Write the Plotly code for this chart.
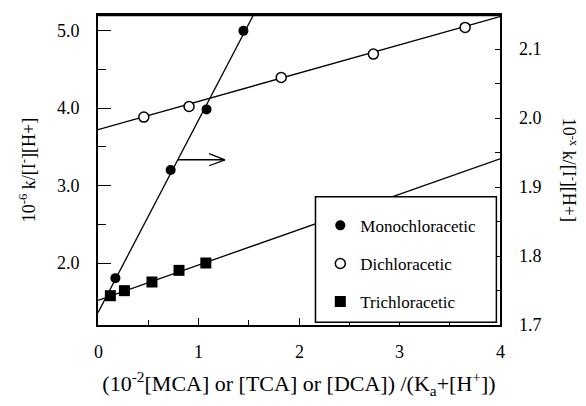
import plotly.graph_objects as go

# Monochloroacetic acid (right-hand axis)
mca_x = [0.173, 0.723, 1.08, 1.447]
mca_y = [1.768, 1.925, 2.013, 2.127]
mca_fit_x = [0.0, 1.6]
mca_fit_y = [1.718, 2.165]

# Dichloroacetic acid (left-hand axis)
dca_x = [0.456, 0.906, 1.823, 2.74, 3.653]
dca_y = [3.883, 4.02, 4.394, 4.696, 5.04]
dca_fit_x = [0.0, 4.0]
dca_fit_y = [3.72, 5.18]

# Trichloroacetic acid (left-hand axis)
tca_x = [0.123, 0.263, 0.537, 0.806, 1.073]
tca_y = [1.578, 1.643, 1.755, 1.905, 2.0]
tca_fit_x = [0.0, 4.0]
tca_fit_y = [1.517, 3.345]

x_ticks = [0, 1, 2, 3, 4]
left_ticks = [2.0, 3.0, 4.0, 5.0]
right_ticks = [1.7, 1.8, 1.9, 2.0, 2.1]
series_names = ["Monochloracetic", "Dichloracetic", "Trichloracetic"]

FONT = "Liberation Serif, Times New Roman, serif"
BLACK = "black"


def serif(s):
    # wrap a label so its face is forced to the serif family
    return "<span style='font-family:\"Liberation Serif\",serif'>%s</span>" % s


fig = go.Figure()

# fitted straight lines
fig.add_trace(go.Scatter(x=mca_fit_x, y=mca_fit_y, yaxis="y2", mode="lines",
                         line=dict(color=BLACK, width=1.3), showlegend=False, hoverinfo="skip"))
fig.add_trace(go.Scatter(x=dca_fit_x, y=dca_fit_y, mode="lines",
                         line=dict(color=BLACK, width=1.3), showlegend=False, hoverinfo="skip"))
fig.add_trace(go.Scatter(x=tca_fit_x, y=tca_fit_y, mode="lines",
                         line=dict(color=BLACK, width=1.3), showlegend=False, hoverinfo="skip"))

# measured points
fig.add_trace(go.Scatter(x=mca_x, y=mca_y, yaxis="y2", mode="markers", name=serif(series_names[0]),
                         legendgroup="a",
                         marker=dict(symbol="circle", size=10, color=BLACK)))
fig.add_trace(go.Scatter(x=dca_x, y=dca_y, mode="markers", name=serif(series_names[1]),
                         legendgroup="b",
                         marker=dict(symbol="circle", size=10, color="white",
                                     line=dict(color=BLACK, width=1.5))))
fig.add_trace(go.Scatter(x=tca_x, y=tca_y, mode="markers", name=serif(series_names[2]),
                         legendgroup="c",
                         marker=dict(symbol="square", size=11, color=BLACK)))

# arrow pointing the monochloroacetic line to the right-hand axis
arrow_y = 3.332
shapes = [
    dict(type="line", xref="x", yref="y", x0=0.796, x1=1.263, y0=arrow_y, y1=arrow_y,
         line=dict(color=BLACK, width=1.3)),
    dict(type="line", xref="x", yref="y", x0=1.106, x1=1.263, y0=3.41, y1=arrow_y,
         line=dict(color=BLACK, width=1.3)),
    dict(type="line", xref="x", yref="y", x0=1.106, x1=1.263, y0=3.255, y1=arrow_y,
         line=dict(color=BLACK, width=1.3)),
    # heavier top frame edge
    dict(type="line", xref="paper", yref="paper", x0=0, x1=1, y0=1, y1=1,
         line=dict(color=BLACK, width=2.5)),
    # legend frame
    dict(type="rect", xref="paper", yref="paper", x0=0.541, x1=0.991, y0=0.009, y1=0.4135,
         fillcolor="white", line=dict(color=BLACK, width=1.5), layer="above"),
]

tick_font = dict(family=FONT, size=18, color=BLACK)

# tick labels written as text items anchored to the axis values
annotations = []
for v in x_ticks:
    annotations.append(dict(text=str(v), x=v, xref="x", y=-0.086, yref="paper",
                            xanchor="center", yanchor="middle", showarrow=False, font=tick_font))
for v in left_ticks:
    annotations.append(dict(text="%.1f" % v, x=-0.041, xref="paper", y=v, yref="y",
                            xanchor="right", yanchor="middle", showarrow=False, font=tick_font))
for v in right_ticks:
    annotations.append(dict(text="%.1f" % v, x=1.0435, xref="paper", y=v, yref="y2",
                            xanchor="left", yanchor="middle", showarrow=False, font=tick_font))
annotations.append(dict(text="10<sup>-x</sup> k/[I<sup>-</sup>][H+]", textangle=90,
                        xref="paper", yref="paper", x=1.175, y=0.5, xanchor="center",
                        yanchor="middle", showarrow=False,
                        font=dict(family=FONT, size=18, color=BLACK)))

fig.update_layout(
    template="none",
    width=586, height=406,
    margin=dict(l=98, r=86, t=15, b=81),
    paper_bgcolor="white", plot_bgcolor="white",
    font=dict(family=FONT, color=BLACK),
    showlegend=True,
    legend=dict(x=0.553, y=0.378, xanchor="left", yanchor="top",
                bgcolor="rgba(0,0,0,0)", borderwidth=0,
                font=dict(family=FONT, size=17, color=BLACK),
                tracegroupgap=13, itemwidth=30),
    xaxis=dict(range=[0, 4], tickvals=x_ticks, showticklabels=False,
               ticks="inside", ticklen=7, tickwidth=1, tickcolor=BLACK,
               minor=dict(tickvals=[0.5, 1.5, 2.5, 3.5], ticks="inside", ticklen=5, tickcolor=BLACK),
               showline=True, linecolor=BLACK, linewidth=1.5, mirror=True,
               showgrid=False, zeroline=False,
               title=dict(text="(10<sup>-2</sup>[MCA] or [TCA] or [DCA]) /(K<sub>a</sub>+[H<sup>+</sup>])",
                          font=dict(family=FONT, size=22, color=BLACK), standoff=50)),
    yaxis=dict(range=[1.2, 5.2], tickvals=left_ticks, showticklabels=False,
               ticks="inside", ticklen=13, tickwidth=1, tickcolor=BLACK,
               minor=dict(tickvals=[2.5, 3.5, 4.5], ticks="inside", ticklen=8, tickcolor=BLACK),
               showline=True, linecolor=BLACK, linewidth=1.5,
               showgrid=False, zeroline=False,
               title=dict(text="10<sup>-6</sup> k/[I<sup>-</sup>][H+]",
                          font=dict(family=FONT, size=18, color=BLACK), standoff=56)),
    yaxis2=dict(range=[1.7, 2.15], overlaying="y", side="right",
                tickvals=right_ticks, showticklabels=False,
                ticks="inside", ticklen=5, tickwidth=1, tickcolor=BLACK,
                minor=dict(tickvals=[1.75, 1.85, 1.95, 2.05], ticks="inside", ticklen=5, tickcolor=BLACK),
                showline=True, linecolor=BLACK, linewidth=1.5,
                showgrid=False, zeroline=False),
    shapes=shapes,
    annotations=annotations,
)

fig.write_html("out.html")
